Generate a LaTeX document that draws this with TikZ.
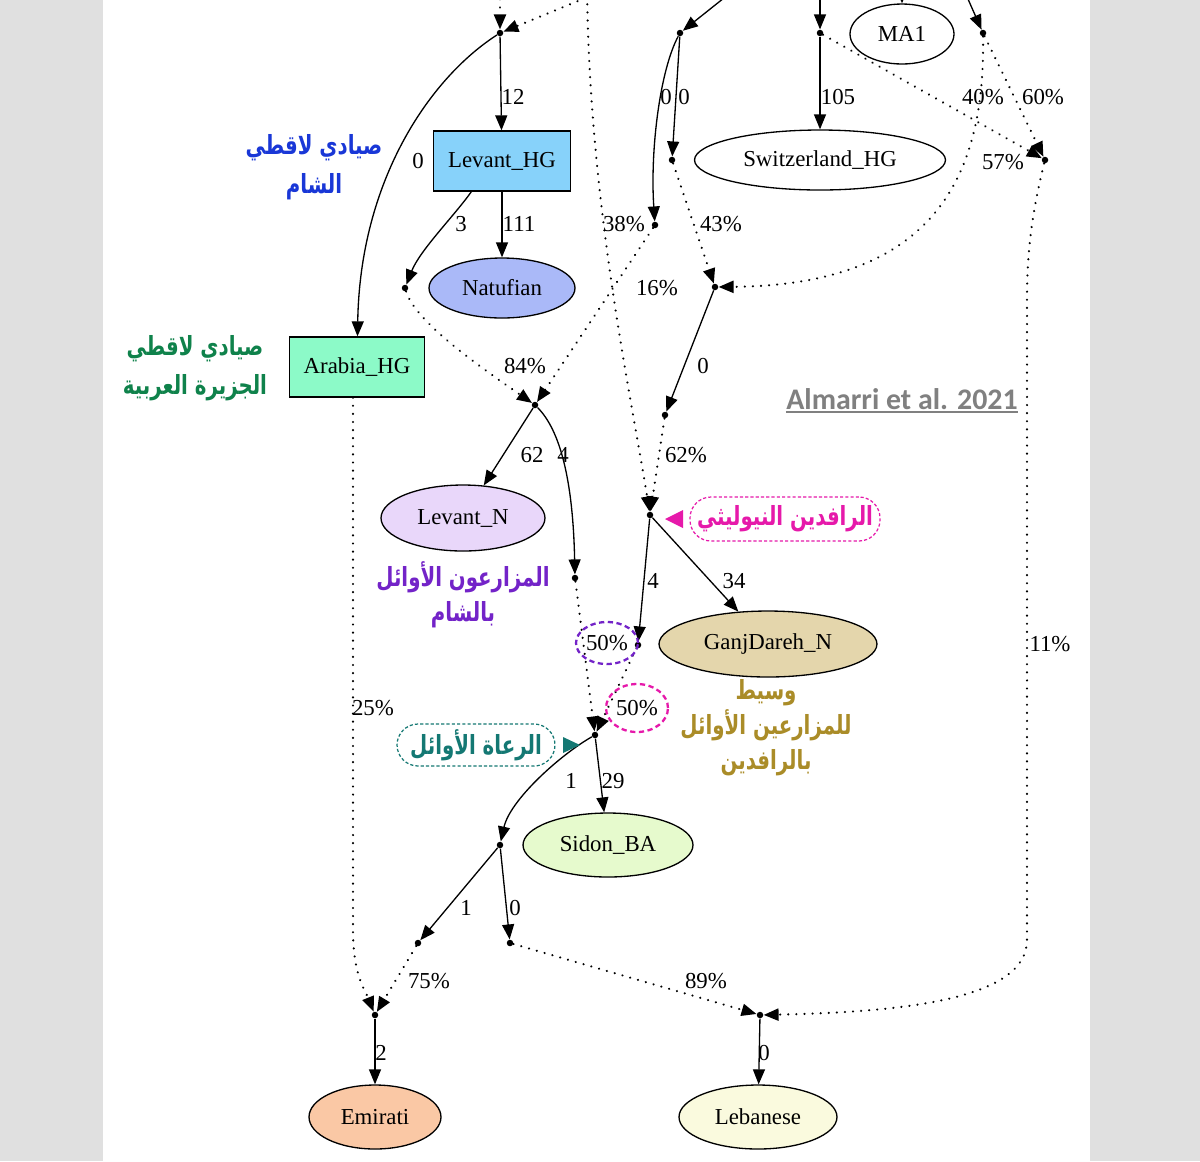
\documentclass[tikz,border=0pt]{standalone}
\usepackage{fontspec}
\usepackage{graphicx}
\setmainfont{Liberation Serif}
\newfontfamily\arabicfont[Script=Arabic]{DejaVu Sans}
\newfontfamily\citefont{Carlito}
\TeXXeTstate=1
\usetikzlibrary{arrows.meta,shapes.geometric,calc}

\definecolor{bgGray}{RGB}{224,224,224}
\definecolor{hgBlue}{RGB}{135,210,250}
\definecolor{arGreen}{RGB}{140,250,200}
\definecolor{natBlue}{RGB}{170,185,248}
\definecolor{levNCol}{RGB}{233,215,250}
\definecolor{ganjCol}{RGB}{228,214,172}
\definecolor{sidonCol}{RGB}{230,250,205}
\definecolor{emirCol}{RGB}{250,200,165}
\definecolor{lebCol}{RGB}{250,250,222}
\definecolor{blueT}{RGB}{25,55,215}
\definecolor{greenT}{RGB}{15,130,75}
\definecolor{purpleT}{RGB}{115,35,200}
\definecolor{magT}{RGB}{230,25,170}
\definecolor{tealT}{RGB}{20,120,115}
\definecolor{goldT}{RGB}{170,140,40}
\definecolor{grayT}{RGB}{128,128,128}

% one right-to-left line, a bit narrowed
\newcommand{\arln}[1]{\scalebox{0.75}[1]{\beginR #1\endR}}

\begin{document}
\begin{tikzpicture}[x=0.02cm, y=-0.02cm,
  every node/.style={font=\fontsize{13}{15}\selectfont},
  pop/.style={draw, line width=0.75pt, ellipse, inner sep=0pt, minimum height=1.2cm},
  popbox/.style={draw, line width=0.75pt, rectangle, inner sep=0pt, minimum width=2.74cm, minimum height=1.2cm},
  jn/.style={circle, fill, inner sep=0pt, minimum size=0.13cm},
  tree/.style={line width=0.75pt, -{Triangle[length=0.3cm,width=0.24cm]}},
  mix/.style={tree, line width=1.35pt, dash pattern=on 0.01pt off 4.6pt, line cap=round},
  lbl/.style={inner sep=0pt},
  ar/.style={font=\fontsize{15}{22}\selectfont\arabicfont\bfseries, align=center, inner sep=0pt},
  tag/.style={ar, draw, line width=0.7pt, dash pattern=on 1.8pt off 1.2pt, rounded corners=0.42cm}]

  \useasboundingbox (0,0) rectangle (1200,1161);
  \clip (0,0) rectangle (1200,1161);
  \fill[bgGray] (0,0) rectangle (1200,1161);
  \fill[white] (103,0) rectangle (1090,1161);

  % populations and junctions
  \node[jn] (j1) at (500,33) {};
  \node[jn] (j2) at (680,33) {};
  \node[jn] (j3) at (820,33) {};
  \node[jn] (j4) at (983,33) {};
  \node[pop, minimum width=2.08cm] (ma1) at (902,34) {MA1};
  \node[popbox, fill=hgBlue] (levHG) at (502,161) {Levant\_HG};
  \node[pop, minimum width=5.02cm] (swiss) at (820,160) {Switzerland\_HG};
  \node[jn] (n43) at (672,160) {};
  \node[jn] (n60) at (1045,160) {};
  \node[jn] (n16) at (655,225) {};
  \node[jn] (n3) at (405,288) {};
  \node[pop, fill=natBlue, minimum width=2.92cm] (natuf) at (502,288) {Natufian};
  \node[jn] (jW) at (715,287) {};
  \node[popbox, fill=arGreen, minimum width=2.7cm] (arHG) at (357,367) {Arabia\_HG};
  \node[jn] (jLN) at (535,405) {};
  \node[jn] (n0) at (665,415) {};
  \node[pop, fill=levNCol, minimum width=3.28cm, minimum height=1.32cm] (levN) at (463,518) {Levant\_N};
  \node[jn] (jMN) at (650,515) {};
  \node[jn] (n4) at (575,578) {};
  \node[jn] (n4b) at (638,645) {};
  \node[pop, fill=ganjCol, minimum width=4.36cm, minimum height=1.32cm] (ganj) at (768,644) {GanjDareh\_N};
  \node[jn] (jP) at (595,735) {};
  \node[pop, fill=sidonCol, minimum width=3.4cm, minimum height=1.28cm] (sidon) at (608,845) {Sidon\_BA};
  \node[jn] (n1) at (500,845) {};
  \node[jn] (nE) at (418,943) {};
  \node[jn] (nL) at (510,943) {};
  \node[jn] (jEm) at (375,1015) {};
  \node[jn] (jLb) at (760,1015) {};
  \node[pop, fill=emirCol, minimum width=2.64cm, minimum height=1.28cm] (emir) at (375,1117) {Emirati};
  \node[pop, fill=lebCol, minimum width=3.16cm, minimum height=1.28cm] (leb) at (758,1117) {Lebanese};

  % edges coming in from above the crop
  \coordinate (in1) at (500,-25);
  \coordinate (in2) at (600,-8);
  \coordinate (in3) at (734,-10);
  \coordinate (in4) at (820,-20);
  \coordinate (in5) at (964,-10);
  \coordinate (in6) at (902,-40);
  \coordinate (in7) at (587,-20);
  \draw[mix] (in1) -- (j1);
  \draw[mix] (in2) -- (j1);
  \draw[tree] (in3) -- (j2);
  \draw[tree] (in4) -- (j3);
  \draw[tree] (in5) -- (j4);
  \draw[tree] (in6) -- (ma1);
  \draw[mix] (in7) .. controls (588,200) and (632,400) .. (jMN);

  % drift edges
  \draw[tree] (j1) -- (levHG);
  \draw[tree] (j1) .. controls (430,78) and (360,180) .. (arHG);
  \draw[tree] (levHG) -- (natuf);
  \draw[tree] (levHG.225) .. controls (455,215) and (420,250) .. (n3);
  \draw[tree] (j2) .. controls (660,70) and (650,150) .. (n16);
  \draw[tree] (j2) -- (n43);
  \draw[tree] (j3) -- (swiss);
  \draw[tree] (jW) -- (n0);
  \draw[tree] (jLN) -- (levN);
  \draw[tree] (jLN) .. controls (560,430) and (573,480) .. (n4);
  \draw[tree] (jMN) -- (n4b);
  \draw[tree] (jMN) -- (ganj);
  \draw[tree] (jP) -- (sidon);
  \draw[tree] (jP) .. controls (560,755) and (510,800) .. (n1);
  \draw[tree] (n1) -- (nE);
  \draw[tree] (n1) -- (nL);
  \draw[tree] (jEm) -- (emir);
  \draw[tree] (jLb) -- (leb);

  % admixture edges
  \draw[mix] (n3) .. controls (415,320) and (470,360) .. (jLN);
  \draw[mix] (n16) -- (jLN);
  \draw[mix] (n43) -- (jW);
  \draw[mix] (j4) .. controls (985,170) and (940,285) .. (jW);
  \draw[mix] (j3) -- (n60);
  \draw[mix] (j4) -- (n60);
  \draw[mix] (n60) .. controls (1030,220) and (1027,260) .. (1027,300) -- (1027,940)
    .. controls (1027,1000) and (900,1012) .. (jLb);
  \draw[mix] (n0) -- (jMN);
  \draw[mix] (n4) -- (jP);
  \draw[mix] (n4b) -- (jP);
  \draw[mix] (nE) -- (jEm);
  \draw[mix] (nL) -- (jLb);
  \draw[mix] ($(arHG.south)+(-4,0)$) -- (353,930) .. controls (353,975) and (365,990) .. (jEm);

  % edge labels
  \node[lbl] (e12) at (513,97) {12};
  \node[lbl] (e0a) at (418,161) {0};
  \node[lbl] (e111) at (519,224) {111};
  \node[lbl] (e3) at (461,224) {3};
  \node[lbl] (e84) at (525,366) {84\%};
  \node[lbl] (e16) at (657,288) {16\%};
  \node[lbl] (e38) at (624,224) {38\%};
  \node[lbl] (e0b) at (666,97) {0};
  \node[lbl] (e0c) at (684,97) {0};
  \node[lbl] (e43) at (721,224) {43\%};
  \node[lbl] (e57) at (1003,162) {57\%};
  \node[lbl] (e105) at (838,97) {105};
  \node[lbl] (e40) at (983,97) {40\%};
  \node[lbl] (e60) at (1043,97) {60\%};
  \node[lbl] (e11) at (1050,644) {11\%};
  \node[lbl] (e0d) at (703,366) {0};
  \node[lbl] (e62p) at (686,455) {62\%};
  \node[lbl] (e62) at (532,455) {62};
  \node[lbl] (e4a) at (563,455) {4};
  \node[lbl] (e4b) at (653,581) {4};
  \node[lbl] (e34) at (734,581) {34};
  \node[lbl] (e50a) at (607,643) {50\%};
  \node[lbl] (e50b) at (637,708) {50\%};
  \node[lbl] (e29) at (613,781) {29};
  \node[lbl] (e1a) at (571,781) {1};
  \node[lbl] (e1b) at (466,908) {1};
  \node[lbl] (e0e) at (515,908) {0};
  \node[lbl] (e25) at (373,708) {25\%};
  \node[lbl] (e75) at (429,981) {75\%};
  \node[lbl] (e89) at (706,981) {89\%};
  \node[lbl] (e2) at (381,1053) {2};
  \node[lbl] (e0f) at (764,1053) {0};

  % highlighted percentages
  \draw[purpleT, line width=1.3pt, dash pattern=on 3pt off 2pt] (e50a) ellipse [x radius=0.62cm, y radius=0.42cm];
  \draw[magT, line width=1.3pt, dash pattern=on 3pt off 2pt] (e50b) ellipse [x radius=0.62cm, y radius=0.48cm];

  % arabic notes
  \node[ar, text=blueT] (noteLevHG) at (314,167) {\arln{صيادي لاقطي}\\\arln{الشام}};
  \node[ar, text=greenT] (noteArHG) at (195,368) {\arln{صيادي لاقطي}\\\arln{الجزيرة العربية}};
  \node[ar, text=purpleT, font=\fontsize{15}{20}\selectfont\arabicfont\bfseries] (noteLevN) at (463,595) {\arln{المزارعون الأوائل}\\\arln{بالشام}};
  \node[ar, text=goldT, font=\fontsize{15}{20}\selectfont\arabicfont\bfseries] (noteGanj) at (766,728) {\arln{وسيط}\\\arln{للمزارعين الأوائل}\\\arln{بالرافدين}};
  \node[tag, text=magT, draw=magT, minimum width=3.8cm, minimum height=0.88cm] (tagMes) at (785,519) {\arln{الرافدين النيوليثي}};
  \node[tag, text=tealT, draw=tealT, minimum width=3.16cm, minimum height=0.84cm] (tagPast) at (476,745) {\arln{الرعاة الأوائل}};
  \fill[magT] (665,519) -- (683,510) -- (683,528) -- cycle;
  \fill[tealT] (580,745) -- (563,737) -- (563,753) -- cycle;

  % source
  \node[font=\fontsize{17}{20}\selectfont\citefont\bfseries, text=grayT, inner sep=0pt, anchor=base] (cite) at (902,409) {Almarri et al. 2021};
  \draw[grayT, line width=1.1pt] ($(cite.base west)+(0,3)$) -- ($(cite.base east)+(0,3)$);
\end{tikzpicture}
\end{document}
